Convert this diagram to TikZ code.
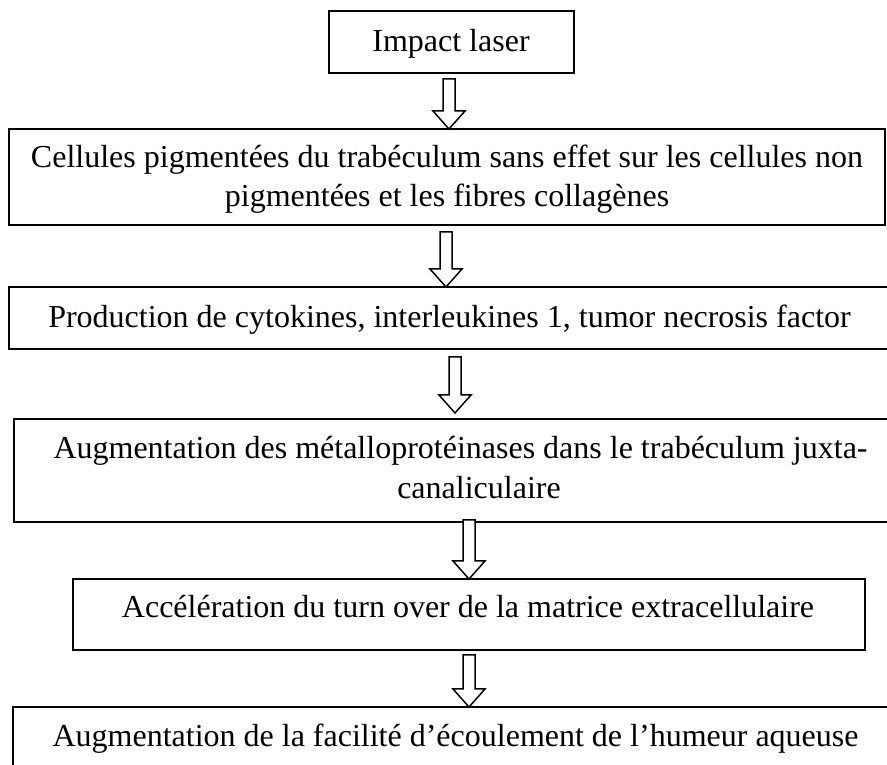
\documentclass[tikz,border=0pt]{standalone}
\usepackage{fontspec}
\setmainfont{Liberation Serif}
\usetikzlibrary{calc}
\tikzset{
  box/.style={draw=black, line width=2pt, inner sep=0pt, fill=none},
  lbl/.style={anchor=base, inner sep=0pt, font=\fontsize{32}{38}\selectfont},
  arr/.style={draw=black, line width=1.5pt, line join=miter, fill=white}
}
\newcommand\hollowarrow[2]{%
  \draw[arr] let \p1=(#1), \p2=(#2) in
    (\x1-6pt,\y1) -- (\x1+6pt,\y1) -- (\x1+6pt,\y2+18pt) -- (\x1+16pt,\y2+18pt)
    -- (\x1,\y2) -- (\x1-16pt,\y2+18pt) -- (\x1-6pt,\y2+18pt) -- cycle;}
\begin{document}
\begin{tikzpicture}[x=1pt,y=1pt]
\useasboundingbox (0,0) rectangle (887,765);
% boxes
\node[box, minimum width=245pt, minimum height=62pt] (b1) at (451.5,723) {};
\node[box, minimum width=876pt, minimum height=96pt] (b2) at (447,588) {};
\node[box, minimum width=882pt, minimum height=62pt] (b3) at (450,447) {};
\node[box, minimum width=930pt, minimum height=103pt] (b4) at (479,294.5) {};
\node[box, minimum width=792pt, minimum height=71pt] (b5) at (469,150.5) {};
\node[box, minimum width=885pt, minimum height=61pt] (b6) at (455.5,27.5) {};
% texts
\node[lbl] (t1) at (451,713) {Impact laser};
\node[lbl] (t2a) at (447,597) {Cellules pigmentées du trabéculum sans effet sur les cellules non};
\node[lbl] (t2b) at (447,558) {pigmentées et les fibres collagènes};
\node[lbl] (t3) at (449.5,437) {Production de cytokines, interleukines 1, tumor necrosis factor};
\node[lbl] (t4a) at (460.5,306) {Augmentation des métalloprotéinases dans le trabéculum juxta-};
\node[lbl] (t4b) at (479,266) {canaliculaire};
\node[lbl] (t5) at (468,147) {Accélération du turn over de la matrice extracellulaire};
\node[lbl] (t6) at (455.5,18) {Augmentation de la facilité d’écoulement de l’humeur aqueuse};
% arrow end points
\coordinate (a1s) at (449,686); \coordinate (a1e) at (449,636);
\coordinate (a2s) at (446,533); \coordinate (a2e) at (446,478);
\coordinate (a3s) at (455,408); \coordinate (a3e) at (455,352);
\coordinate (a4s) at (469,245); \coordinate (a4e) at (469,186);
\coordinate (a5s) at (469,110); \coordinate (a5e) at (469,58);
\hollowarrow{a1s}{a1e}
\hollowarrow{a2s}{a2e}
\hollowarrow{a3s}{a3e}
\hollowarrow{a4s}{a4e}
\hollowarrow{a5s}{a5e}
\end{tikzpicture}
\end{document}
